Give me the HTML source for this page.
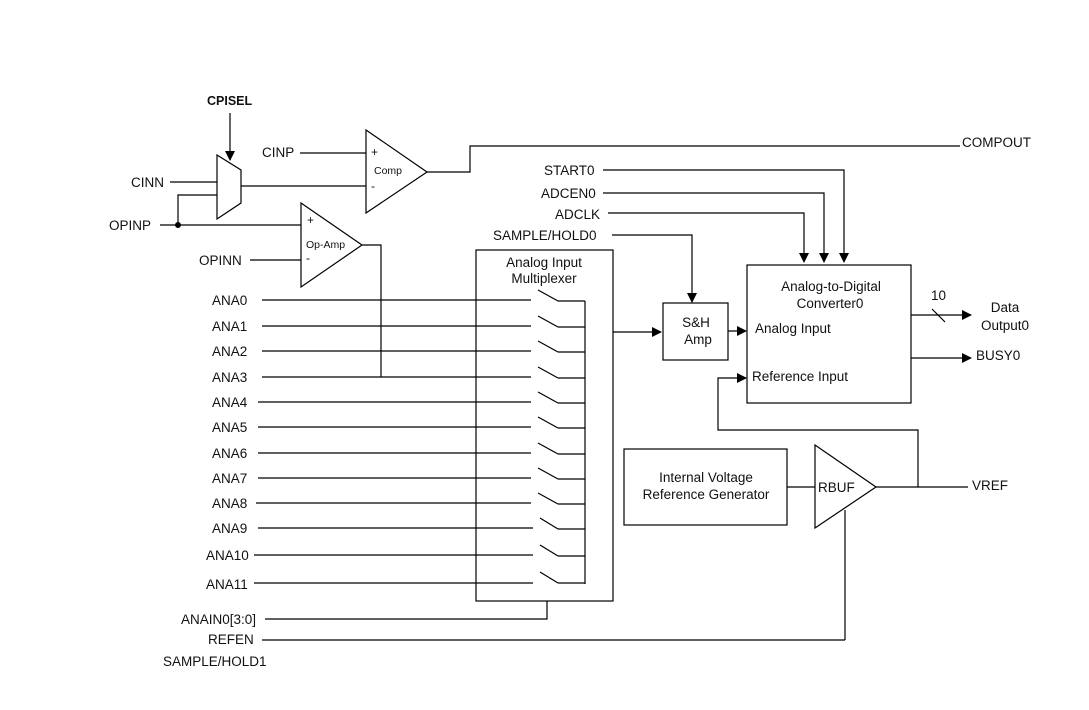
<!DOCTYPE html>
<html><head><meta charset="utf-8"><style>
html,body{margin:0;padding:0;background:#fff;}
svg{display:block;}
text{font-family:"Liberation Sans",Arial,sans-serif;font-size:13.5px;fill:#111;}
</style></head><body>
<svg width="1089" height="710" viewBox="0 0 1089 710" xmlns="http://www.w3.org/2000/svg">
<defs>
<marker id="a" markerWidth="10" markerHeight="10" refX="9" refY="5" orient="auto" markerUnits="userSpaceOnUse">
<path d="M0,0 L10,5 L0,10 z" fill="#000"/></marker>
</defs>
<g stroke="#000" stroke-width="1.2" fill="none">
<line x1="230" y1="113" x2="230" y2="160" marker-end="url(#a)"/>
<polygon points="217,155 241,170 241,203 217,219" fill="#fff"/>
<line x1="170" y1="182" x2="217" y2="182"/>
<polyline points="178,225 178,195 217,195"/>
<line x1="160" y1="225" x2="301" y2="225"/>
<line x1="241" y1="186" x2="366" y2="186"/>
<line x1="300" y1="153" x2="366" y2="153"/>
<polygon points="366,130 427,172 366,213" fill="#fff"/>
<polyline points="427,172 470,172 470,146 960,146"/>
<polygon points="301,203 362,245 301,287" fill="#fff"/>
<line x1="250" y1="260" x2="301" y2="260"/>
<polyline points="362,245 381,245 381,377"/>
<polyline points="603,170 844,170 844,262" marker-end="url(#a)"/>
<polyline points="603,193 824,193 824,262" marker-end="url(#a)"/>
<polyline points="608,213 804,213 804,262" marker-end="url(#a)"/>
<polyline points="612,235 692,235 692,302" marker-end="url(#a)"/>
<rect x="476" y="250" width="137" height="351"/>
<line x1="585" y1="301" x2="585" y2="584"/>
<line x1="613" y1="332" x2="661" y2="332" marker-end="url(#a)"/>
<polyline points="547,601 547,619 265,619"/>
<line x1="262" y1="640" x2="845" y2="640"/>
<line x1="845" y1="640" x2="845" y2="510"/>
<rect x="663" y="303" width="65" height="57"/>
<line x1="728" y1="331" x2="746" y2="331" marker-end="url(#a)"/>
<rect x="747" y="265" width="164" height="138"/>
<line x1="911" y1="315" x2="971" y2="315" marker-end="url(#a)"/>
<line x1="932" y1="309" x2="945" y2="322"/>
<line x1="911" y1="358" x2="971" y2="358" marker-end="url(#a)"/>
<polyline points="918,487 918,430 718,430 718,378 746,378" />
<line x1="740" y1="378" x2="746" y2="378" marker-end="url(#a)"/>
<rect x="624" y="449" width="163" height="76"/>
<line x1="787" y1="487" x2="815" y2="487"/>
<polygon points="815,445 876,487 815,528" fill="#fff"/>
<line x1="876" y1="487" x2="968" y2="487"/>
</g>
<circle cx="178" cy="225" r="3" fill="#000"/>
<g stroke="#000" stroke-width="1.2" fill="none">
<line x1="262" y1="300" x2="531" y2="300"/><line x1="538" y1="290" x2="558" y2="301"/><line x1="558" y1="301" x2="585" y2="301"/>
<line x1="262" y1="326" x2="531" y2="326"/><line x1="538" y1="316" x2="558" y2="327"/><line x1="558" y1="327" x2="585" y2="327"/>
<line x1="262" y1="351" x2="531" y2="351"/><line x1="538" y1="341" x2="558" y2="352"/><line x1="558" y1="352" x2="585" y2="352"/>
<line x1="262" y1="377" x2="531" y2="377"/><line x1="538" y1="367" x2="558" y2="378"/><line x1="558" y1="378" x2="585" y2="378"/>
<line x1="258" y1="402" x2="531" y2="402"/><line x1="538" y1="392" x2="558" y2="403"/><line x1="558" y1="403" x2="585" y2="403"/>
<line x1="258" y1="427" x2="531" y2="427"/><line x1="538" y1="417" x2="558" y2="428"/><line x1="558" y1="428" x2="585" y2="428"/>
<line x1="258" y1="453" x2="531" y2="453"/><line x1="538" y1="443" x2="558" y2="454"/><line x1="558" y1="454" x2="585" y2="454"/>
<line x1="258" y1="478" x2="531" y2="478"/><line x1="538" y1="468" x2="558" y2="479"/><line x1="558" y1="479" x2="585" y2="479"/>
<line x1="256" y1="503" x2="531" y2="503"/><line x1="538" y1="493" x2="558" y2="504"/><line x1="558" y1="504" x2="585" y2="504"/>
<line x1="258" y1="528" x2="533" y2="528"/><line x1="540" y1="518" x2="558" y2="529"/><line x1="558" y1="529" x2="585" y2="529"/>
<line x1="254" y1="555" x2="533" y2="555"/><line x1="540" y1="545" x2="558" y2="556"/><line x1="558" y1="556" x2="585" y2="556"/>
<line x1="254" y1="583" x2="533" y2="583"/><line x1="540" y1="572" x2="558" y2="583"/><line x1="558" y1="583" x2="585" y2="583"/>
</g>
<text x="207" y="105" style="font-weight:bold;font-size:12.5px">CPISEL</text>
<text x="262" y="157">CINP</text>
<text x="131" y="187">CINN</text>
<text x="109" y="230">OPINP</text>
<text x="199" y="265">OPINN</text>
<text x="371" y="156" style="font-size:12px">+</text>
<text x="374" y="174" style="font-size:10.5px">Comp</text>
<text x="371" y="190" style="font-size:12px">-</text>
<text x="307" y="224" style="font-size:12px">+</text>
<text x="306" y="248" style="font-size:10.5px">Op-Amp</text>
<text x="306" y="262" style="font-size:12px">-</text>
<text x="962" y="147">COMPOUT</text>
<text x="544" y="175">START0</text>
<text x="541" y="198">ADCEN0</text>
<text x="555" y="219">ADCLK</text>
<text x="493" y="240">SAMPLE/HOLD0</text>
<text x="544" y="267" text-anchor="middle">Analog Input</text>
<text x="544" y="283" text-anchor="middle">Multiplexer</text>
<text x="212" y="305">ANA0</text><text x="212" y="331">ANA1</text><text x="212" y="356">ANA2</text>
<text x="212" y="382">ANA3</text><text x="212" y="407">ANA4</text><text x="212" y="432">ANA5</text>
<text x="212" y="458">ANA6</text><text x="212" y="483">ANA7</text><text x="212" y="508">ANA8</text>
<text x="212" y="533">ANA9</text><text x="206" y="560">ANA10</text><text x="206" y="589">ANA11</text>
<text x="181" y="624">ANAIN0[3:0]</text>
<text x="208" y="644">REFEN</text>
<text x="163" y="666">SAMPLE/HOLD1</text>
<text x="696" y="327" text-anchor="middle">S&amp;H</text>
<text x="698" y="344" text-anchor="middle">Amp</text>
<text x="831" y="291" text-anchor="middle">Analog-to-Digital</text>
<text x="830" y="308" text-anchor="middle">Converter0</text>
<text x="755" y="333">Analog Input</text>
<text x="752" y="381">Reference Input</text>
<text x="931" y="300">10</text>
<text x="1005" y="312" text-anchor="middle">Data</text>
<text x="1005" y="330" text-anchor="middle">Output0</text>
<text x="976" y="360">BUSY0</text>
<text x="706" y="482" text-anchor="middle">Internal Voltage</text>
<text x="706" y="499" text-anchor="middle">Reference Generator</text>
<text x="818" y="492">RBUF</text>
<text x="972" y="490">VREF</text>
</svg>
</body></html>
